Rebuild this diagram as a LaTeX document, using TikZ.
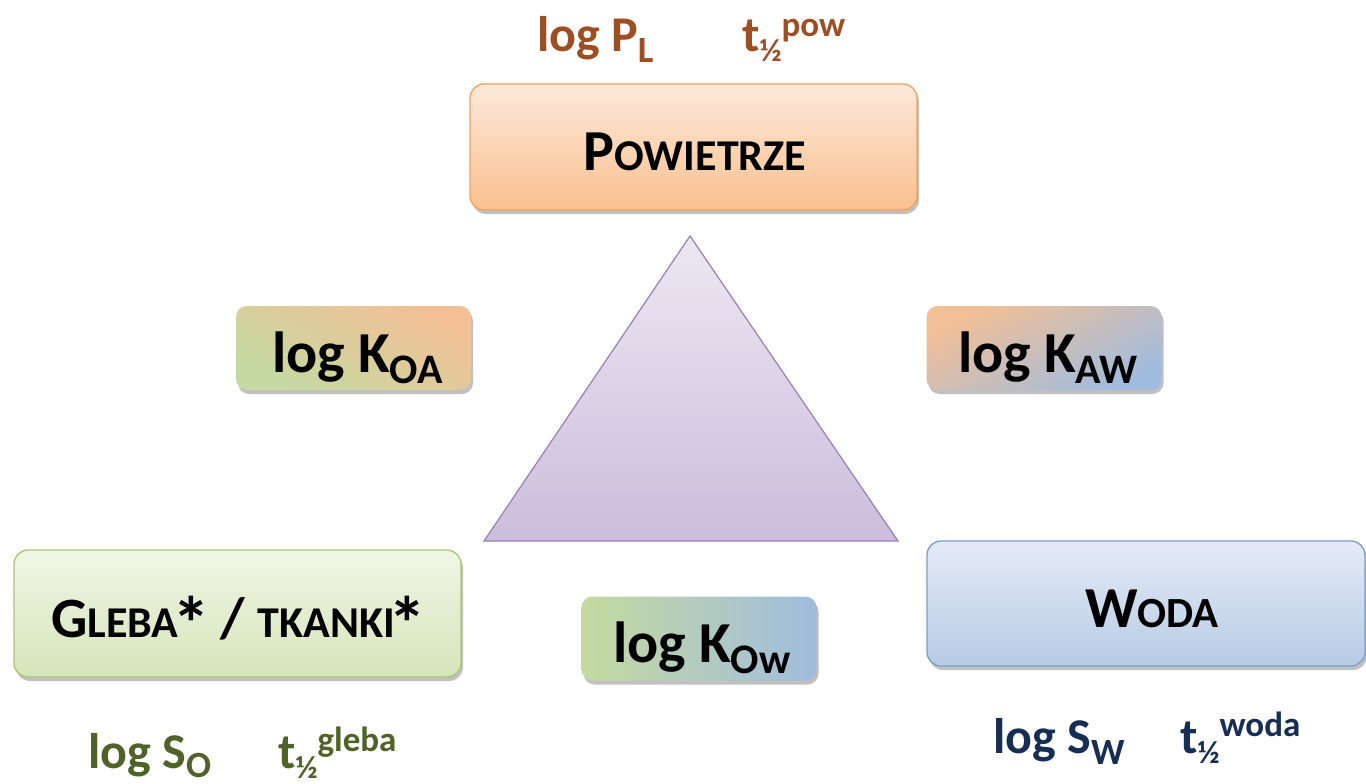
\documentclass[tikz,border=0pt]{standalone}
\usepackage{fontspec}
\setmainfont{Carlito}[BoldFont={Carlito Bold}]
\usetikzlibrary{shadows}
\definecolor{powtop}{RGB}{252,233,219}
\definecolor{powbot}{RGB}{249,192,143}
\definecolor{powline}{RGB}{247,160,90}
\definecolor{gltop}{RGB}{240,246,230}
\definecolor{glbot}{RGB}{214,228,186}
\definecolor{glline}{RGB}{170,198,112}
\definecolor{wdtop}{RGB}{228,235,246}
\definecolor{wdbot}{RGB}{183,203,229}
\definecolor{wdline}{RGB}{120,158,205}
\definecolor{tritop}{RGB}{237,231,242}
\definecolor{tribot}{RGB}{204,189,220}
\definecolor{triline}{RGB}{150,128,180}
\definecolor{korange}{RGB}{243,191,150}
\definecolor{kgreen}{RGB}{196,218,160}
\definecolor{kblue}{RGB}{160,188,222}
\definecolor{txtbrown}{RGB}{158,78,35}
\definecolor{txtgreen}{RGB}{79,98,40}
\definecolor{txtblue}{RGB}{23,46,84}
\newcommand\fsz[1]{\fontsize{#1}{#1}\selectfont}
\newcommand\lowsub[3]{\raisebox{-#1pt}{\fsz{#2}#3}}
\newcommand\upsup[3]{\raisebox{#1pt}{\fsz{#2}#3}}
\newcommand\thalf[3]{t\lowsub{10}{32}{½}\upsup{#1}{#2}{#3}}
\newcommand\bigast{\kern-6pt\raisebox{-13pt}{\fsz{76}*}\kern-3pt}
\begin{document}
\begin{tikzpicture}[x=1pt,y=-1pt,font=\bfseries,
  box/.style={rounded corners=14pt, inner sep=0pt, line width=1.3pt,
    drop shadow={shadow xshift=2pt, shadow yshift=-4pt, opacity=0.35, fill=black!70}},
  kbox/.style={rounded corners=11pt, inner sep=0pt, minimum width=235pt, minimum height=84pt,
    drop shadow={shadow xshift=2pt, shadow yshift=-4pt, opacity=0.35, fill=black!70}},
  txt/.style={inner sep=0pt, anchor=base west}]
\fill[white] (0,0) rectangle (1366,784);
\useasboundingbox (0,0) rectangle (1366,784);

% triangle
\coordinate (apex) at (690,236);
\coordinate (bl) at (484,541);
\coordinate (br) at (898,541);
\shadedraw[top color=tritop, bottom color=tribot, draw=triline, line width=1.2pt] (apex) -- (br) -- (bl) -- cycle;

% main boxes
\node[box, minimum width=447pt, minimum height=126pt, top color=powtop, bottom color=powbot, draw=powline] (pow) at (693.5,147) {};
\node[box, minimum width=447pt, minimum height=127pt, top color=gltop, bottom color=glbot, draw=glline] (gl) at (237.5,613.5) {};
\node[box, minimum width=438pt, minimum height=125pt, top color=wdtop, bottom color=wdbot, draw=wdline] (wd) at (1146,603.5) {};

% K boxes
\node[kbox, bottom color=kgreen, top color=korange, shading angle=-28] (koa) at (353.5,348) {};
\node[kbox, top color=korange, bottom color=kblue, shading angle=28] (kaw) at (1044,348) {};
\node[kbox, left color=kgreen, right color=kblue] (kow) at (699,638.5) {};

% box texts
\node[inner sep=0pt, anchor=base] (powt) at (695,170) {\fsz{58}P\fsz{44}OWIETRZE};
\node[inner sep=0pt, anchor=base] (glt) at (237.5,637) {\fsz{57}G\fsz{44}LEBA\bigast\fsz{57} / \fsz{44}TKANKI\bigast};
\node[inner sep=0pt, anchor=base] (wdt) at (1152,627) {\fsz{58}W\fsz{43}ODA};
\node[txt] (koat) at (272,372) {\fsz{58}log K\lowsub{11}{42}{OA}};
\node[txt] (kawt) at (958,372) {\fsz{58}log K\lowsub{11}{42}{AW}};
\node[txt] (kowt) at (613,662) {\fsz{58}log K\lowsub{11}{42}{Ow}};

% property labels
\node[txt, text=txtbrown] (lpl) at (537,52) {\fsz{50}log P\lowsub{11}{37}{L}};
\node[txt, text=txtbrown] (tpow) at (742,52) {\fsz{50}\thalf{15}{35}{pow}};
\node[txt, text=txtgreen] (lso) at (88,768) {\fsz{50}log S\lowsub{9}{37}{O}};
\node[txt, text=txtgreen] (tgl) at (278,768) {\fsz{50}\thalf{17}{35}{gleba}};
\node[txt, text=txtblue] (lsw) at (993,753) {\fsz{50}log S\lowsub{11}{37}{W}};
\node[txt, text=txtblue] (twd) at (1180,753) {\fsz{50}\thalf{17}{35}{woda}};
\end{tikzpicture}
\end{document}
